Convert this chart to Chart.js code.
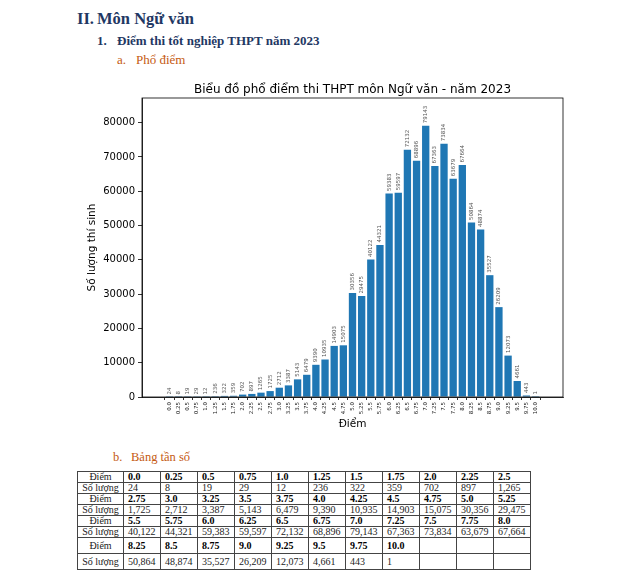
<!DOCTYPE html>
<html>
<head>
<meta charset="utf-8">
<script src="https://cdn.jsdelivr.net/npm/chart.js@4.4.1/dist/chart.umd.min.js"></script>
<style>
  html, body { margin:0; padding:0; background:#fff; }
  body { width:640px; height:574px; position:relative; overflow:hidden; font-family:"Liberation Serif", "Times New Roman", serif; }
  .t { position:absolute; white-space:nowrap; line-height:1; }
  .h1 { left:77px; top:11px; font-size:16.5px; font-weight:bold; color:#1F3864; }
  .h1 .n { display:inline-block; width:20px; }
  .h2 { left:97px; top:34px; font-size:13px; font-weight:bold; color:#1F3864; }
  .h2 .n { display:inline-block; width:20px; }
  .h3 { left:117px; top:53px; font-size:13px; color:#C55A11; }
  .h3 .n { display:inline-block; width:19px; }
  .h4 { left:113px; top:451px; font-size:12.5px; color:#C55A11; }
  .h4 .n { display:inline-block; width:18px; }
  #wrap { position:absolute; left:70px; top:70px; width:510px; height:370px; }
  table { position:absolute; left:77px; top:471px; border-collapse:collapse; font-size:10px; color:#222; }
  td { border:1px solid #444; padding:0 0 0 4px; height:10px; line-height:10px; width:32px; }
  td.hd { width:45px; padding:0; text-align:center; }
  td.b { font-weight:bold; color:#000; }
  tr.tall td { height:15px; }
</style>
</head>
<body>
<div class="t h1"><span class="n">II.</span>Môn Ngữ văn</div>
<div class="t h2"><span class="n">1.</span>Điểm thi tốt nghiệp THPT năm 2023</div>
<div class="t h3"><span class="n">a.</span>Phổ điểm</div>
<div id="wrap"><canvas id="c" width="510" height="370"></canvas></div>
<div class="t h4"><span class="n">b.</span>Bảng tần số</div>
<table id="tbl"></table>
<script>
// ---- data ----
const scoreLabels = ['0.0','0.25','0.5','0.75','1.0','1.25','1.5','1.75','2.0','2.25','2.5',
  '2.75','3.0','3.25','3.5','3.75','4.0','4.25','4.5','4.75','5.0','5.25',
  '5.5','5.75','6.0','6.25','6.5','6.75','7.0','7.25','7.5','7.75','8.0',
  '8.25','8.5','8.75','9.0','9.25','9.5','9.75','10.0'];
const counts = [24,8,19,29,12,236,322,359,702,897,1265,
  1725,2712,3387,5143,6479,9390,10935,14903,15075,30356,29475,
  40122,44321,59383,59597,72132,68896,79143,67363,73834,63679,67664,
  50864,48874,35527,26209,12073,4661,443,1];
const yTickValues = [0,10000,20000,30000,40000,50000,60000,70000,80000];
const chartTitle = 'Biểu đồ phổ điểm thi THPT môn Ngữ văn - năm 2023';
const xTitle = 'Điểm';
const yTitle = 'Số lượng thí sinh';
const rowHeadScore = 'Điểm';
const rowHeadCount = 'Số lượng';

// ---- table ----
(function(){
  const tbl = document.getElementById('tbl');
  const perRow = 11;
  let html = '';
  for (let r = 0; r < Math.ceil(scoreLabels.length / perRow); r++) {
    const last = (r + 1) * perRow >= scoreLabels.length;
    const cls = last ? ' class="tall"' : '';
    let a = '<tr' + cls + '><td class="hd">' + rowHeadScore + '</td>';
    let b = '<tr' + cls + '><td class="hd">' + rowHeadCount + '</td>';
    for (let k = 0; k < perRow; k++) {
      const i = r * perRow + k;
      if (i < scoreLabels.length) {
        a += '<td class="b">' + scoreLabels[i] + '</td>';
        b += '<td>' + counts[i].toLocaleString('en-US') + '</td>';
      } else { a += '<td></td>'; b += '<td></td>'; }
    }
    html += a + '</tr>' + b + '</tr>';
  }
  tbl.innerHTML = html;
})();

// ---- chart ----
const extras = {
  id: 'extras',
  afterDatasetsDraw(chart) {
    const ctx = chart.ctx;
    const meta = chart.getDatasetMeta(0);
    ctx.save();
    ctx.fillStyle = '#555';
    ctx.font = '5.5px "DejaVu Sans"';
    ctx.textAlign = 'left';
    ctx.textBaseline = 'middle';
    meta.data.forEach((bar, i) => {
      ctx.save();
      ctx.translate(bar.x, bar.y - 2.5);
      ctx.rotate(-Math.PI / 2);
      ctx.fillText(String(counts[i]), 0, 0);
      ctx.restore();
    });
    ctx.restore();
  },
  afterDraw(chart) {
    const ctx = chart.ctx, a = chart.chartArea;
    ctx.save();
    ctx.strokeStyle = '#000';
    ctx.lineWidth = 0.8;
    ctx.strokeRect(a.left, a.top, a.right - a.left, a.bottom - a.top);
    ctx.fillStyle = '#000';
    ctx.font = '12px "DejaVu Sans"';
    ctx.textAlign = 'center';
    ctx.textBaseline = 'alphabetic';
    ctx.fillText(chartTitle, (a.left + a.right) / 2, 22.5);
    ctx.restore();
  }
};

new Chart(document.getElementById('c'), {
  type: 'bar',
  data: {
    datasets: [{
      data: counts.map((v, i) => ({ x: i, y: v })),
      backgroundColor: '#1f77b4',
      borderWidth: 0,
      barPercentage: 0.8,
      categoryPercentage: 1.0
    }]
  },
  options: {
    responsive: false,
    animation: false,
    layout: { padding: { top: 28, left: 8, right: 17, bottom: 9 } },
    plugins: { legend: { display: false }, tooltip: { enabled: false }, title: { display: false } },
    scales: {
      x: {
        type: 'linear',
        min: -2.44,
        max: 42.44,
        afterBuildTicks: s => { s.ticks = scoreLabels.map((_, i) => ({ value: i })); },
        afterFit: s => { s.height = 34; },
        ticks: {
          autoSkip: false, maxRotation: 90, minRotation: 90,
          font: { family: 'DejaVu Sans', size: 5.5 }, color: '#222', padding: 2,
          callback: v => scoreLabels[v]
        },
        grid: { drawOnChartArea: false, tickLength: 3, color: '#000', lineWidth: 0.8 },
        border: { display: true, color: '#000', width: 0.8 },
        title: { display: true, text: xTitle, color: '#000', font: { family: 'DejaVu Sans', size: 10.5 }, padding: { top: 0, bottom: 0 } }
      },
      y: {
        min: 0,
        max: 87200,
        afterBuildTicks: s => { s.ticks = yTickValues.map(v => ({ value: v })); },
        afterFit: s => { s.width = 64; },
        ticks: { font: { family: 'DejaVu Sans', size: 10 }, color: '#000', padding: 3, callback: v => String(v) },
        grid: { drawOnChartArea: false, tickLength: 4, color: '#000', lineWidth: 0.8 },
        border: { display: true, color: '#000', width: 0.8 },
        title: { display: true, text: yTitle, color: '#000', font: { family: 'DejaVu Sans', size: 10.5 }, padding: { top: 8, bottom: 0 } }
      }
    }
  },
  plugins: [extras]
});
</script>
</body>
</html>
